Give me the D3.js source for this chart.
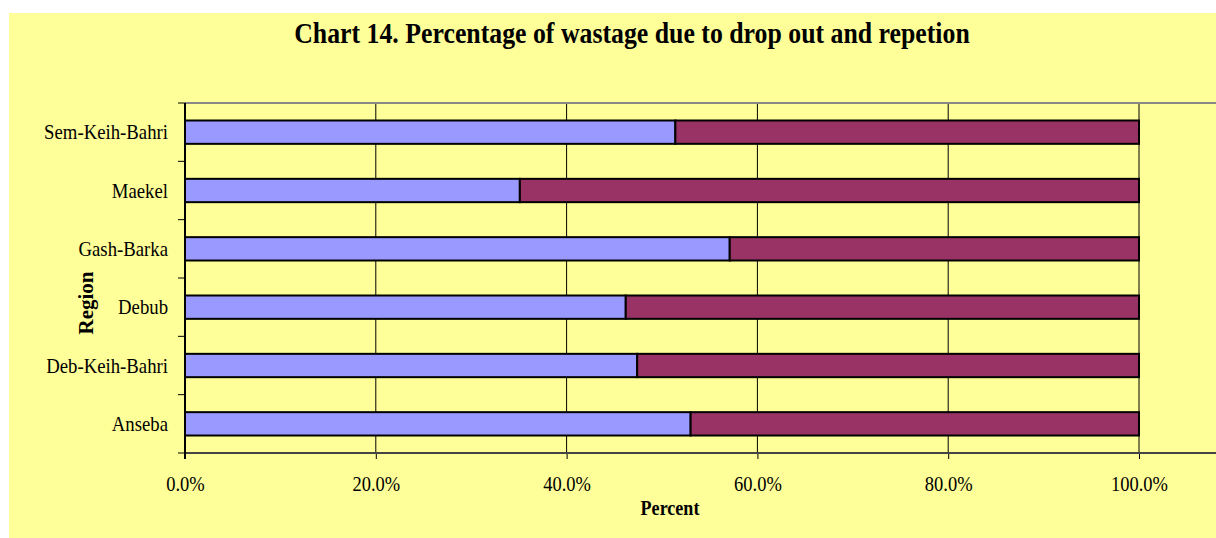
<!DOCTYPE html>
<html>
<head>
<meta charset="utf-8">
<script src="https://cdn.jsdelivr.net/npm/d3@7"></script>
<style>
  html, body { margin: 0; padding: 0; background: #ffffff; }
  text { font-family: "Liberation Serif", "Times New Roman", serif; fill: #000; }
</style>
</head>
<body>
<div id="chart"></div>
<script>
// regions from bottom to top, as in the picture
const regions = ["Anseba", "Deb-Keih-Bahri", "Debub", "Gash-Barka", "Maekel", "Sem-Keih-Bahri"];
const dropOut = [53.0, 47.4, 46.2, 57.1, 35.1, 51.4];
const repetition = [47.0, 52.6, 53.8, 42.9, 64.9, 48.6];
const tickValues = [0, 20, 40, 60, 80, 100];

const width = 1216;
const height = 538;
const plot = { left: 185, right: 1139, top: 103, bottom: 453 };
const sx = 0.86; // the original text is a little squeezed sideways
const colors = ["#9999ff", "#993366"];

const rows = regions.map((r, i) => ({ region: r, drop: dropOut[i], rep: repetition[i] }));

const svg = d3.select("#chart").append("svg")
    .attr("width", width)
    .attr("height", height);

svg.append("rect")
    .attr("x", 9).attr("y", 13)
    .attr("width", width - 9).attr("height", height - 13)
    .attr("fill", "#ffff99");

const x = d3.scaleLinear()
    .domain([0, 100])
    .range([plot.left, plot.right]);

const y = d3.scaleBand()
    .domain(regions.slice().reverse())
    .range([plot.top, plot.bottom])
    .paddingInner(0.6)
    .paddingOuter(0.3);

// gridlines
svg.append("g")
    .selectAll("line")
    .data(tickValues.filter(d => d > 0))
    .join("line")
    .attr("x1", d => x(d)).attr("x2", d => x(d))
    .attr("y1", plot.top).attr("y2", plot.bottom)
    .attr("stroke", "#000")
    .attr("stroke-width", 1);

// top border of the plot area
svg.append("line")
    .attr("x1", plot.left).attr("x2", width)
    .attr("y1", plot.top).attr("y2", plot.top)
    .attr("stroke", "#888")
    .attr("stroke-width", 2);

// stacked bars
const stack = d3.stack().keys(["drop", "rep"]);
const series = stack(rows);

svg.append("g")
    .selectAll("g")
    .data(series)
    .join("g")
    .attr("fill", (d, i) => colors[i])
    .selectAll("rect")
    .data(d => d)
    .join("rect")
    .attr("x", d => x(d[0]))
    .attr("y", d => y(d.data.region))
    .attr("width", d => x(d[1]) - x(d[0]))
    .attr("height", y.bandwidth())
    .attr("stroke", "#000")
    .attr("stroke-width", 2);

// x axis
const xAxis = svg.append("g")
    .attr("transform", `translate(0,${plot.bottom})`)
    .call(d3.axisBottom(x).tickValues(tickValues).tickSize(6).tickSizeOuter(0)
        .tickFormat(d => d.toFixed(1) + "%"));
xAxis.select(".domain").remove();
xAxis.selectAll("line").attr("stroke", "#000");
xAxis.selectAll("text")
    .attr("y", 38).attr("dy", 0)
    .attr("transform", `scale(${sx},1)`)
    .attr("font-family", "Liberation Serif")
    .attr("font-size", 21.5);

svg.append("line")
    .attr("x1", plot.left).attr("x2", width)
    .attr("y1", plot.bottom).attr("y2", plot.bottom)
    .attr("stroke", "#444")
    .attr("stroke-width", 2);

// y axis: labels at band centres, ticks at band edges
const yAxis = svg.append("g")
    .attr("transform", `translate(${plot.left},0)`)
    .call(d3.axisLeft(y).tickSize(0));
yAxis.select(".domain").remove();
yAxis.selectAll("text")
    .attr("x", -17 / sx).attr("dy", 7)
    .attr("transform", `scale(${sx},1)`)
    .attr("font-family", "Liberation Serif")
    .attr("font-size", 21.8);

const edges = d3.range(regions.length + 1).map(i => plot.top + i * y.step());
svg.append("g")
    .selectAll("line")
    .data(edges)
    .join("line")
    .attr("x1", plot.left - 7).attr("x2", plot.left)
    .attr("y1", d => d).attr("y2", d => d)
    .attr("stroke", "#000");

svg.append("line")
    .attr("x1", plot.left).attr("x2", plot.left)
    .attr("y1", plot.top).attr("y2", plot.bottom + 6)
    .attr("stroke", "#000")
    .attr("stroke-width", 2);

// titles
svg.append("text")
    .attr("transform", `translate(632,43) scale(${sx},1)`)
    .attr("text-anchor", "middle")
    .attr("font-weight", "bold")
    .attr("font-size", 30)
    .text("Chart 14. Percentage of wastage due to drop out and repetion");

svg.append("text")
    .attr("transform", `translate(670,515) scale(${sx},1)`)
    .attr("text-anchor", "middle")
    .attr("font-weight", "bold")
    .attr("font-size", 21)
    .text("Percent");

svg.append("text")
    .attr("transform", "translate(93,303) rotate(-90)")
    .attr("text-anchor", "middle")
    .attr("font-weight", "bold")
    .attr("font-size", 21)
    .text("Region");
</script>
</body>
</html>
